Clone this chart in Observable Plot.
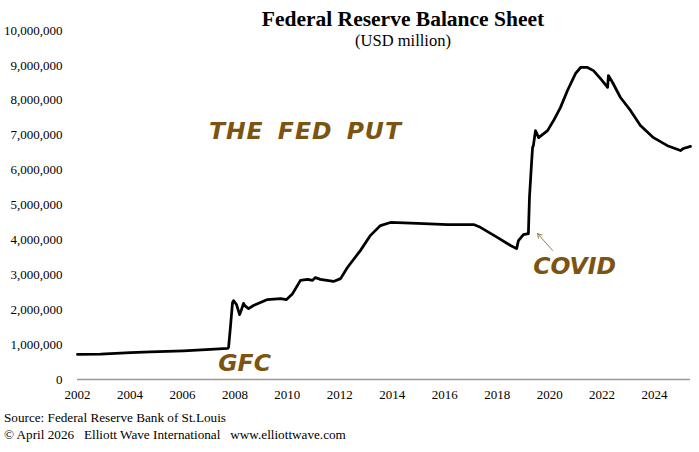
<!DOCTYPE html>
<html>
<head>
<meta charset="utf-8">
<script src="https://cdn.jsdelivr.net/npm/d3@7"></script>
<script src="https://cdn.jsdelivr.net/npm/@observablehq/plot@0.6"></script>
<style>
  body { margin: 0; background: #fff; }
  #wrap { position: relative; width: 699px; height: 452px; overflow: hidden; background: #fff; }
  #chart { position: absolute; left: 0; top: 0; }
  .title { position: absolute; left: 203px; width: 400px; top: 8.5px; text-align: center;
           font-family: "Liberation Serif", serif; font-weight: bold; font-size: 21.5px; line-height: 1; color: #000; white-space: nowrap; }
  .subtitle { position: absolute; left: 203px; width: 400px; top: 32.5px; text-align: center;
           font-family: "Liberation Serif", serif; font-size: 16.5px; line-height: 1; color: #000; white-space: nowrap; }
  .caption { position: absolute; left: 4px; top: 408.6px; font-family: "Liberation Serif", serif;
           font-size: 13.2px; line-height: 17.5px; color: #000; white-space: pre; }
  .fedput text { word-spacing: 5px; letter-spacing: 1px; }
</style>
</head>
<body>
<div id="wrap">
  <div id="chart"></div>
  <div class="title" id="title"></div>
  <div class="subtitle" id="subtitle"></div>
  <div class="caption" id="caption"></div>
</div>
<script>
// ---- Data ----
const titleText = "Federal Reserve Balance Sheet";
const subtitleText = "(USD million)";
const captionLines = [
  "Source: Federal Reserve Bank of St.Louis",
  "\u00a9 April 2026   Elliott Wave International   www.elliottwave.com"
];

const years = [
  2002.00, 2002.88, 2004.02, 2004.78, 2006.04, 2007.07, 2007.72, 2007.76, 2007.83, 2007.91,
  2007.95, 2008.06, 2008.18, 2008.25, 2008.33, 2008.40, 2008.52, 2008.71, 2009.24, 2009.74,
  2009.97, 2010.20, 2010.50, 2010.77, 2010.96, 2011.07, 2011.26, 2011.76, 2012.03, 2012.29,
  2012.79, 2013.17, 2013.55, 2013.93, 2014.96, 2016.11, 2017.10, 2017.36, 2017.94, 2018.51,
  2018.74, 2018.81, 2019.00, 2019.19, 2019.23, 2019.31, 2019.35, 2019.38, 2019.46, 2019.58,
  2019.92, 2020.15, 2020.41, 2020.68, 2020.99, 2021.18, 2021.44, 2021.67, 2021.94, 2022.21,
  2022.24, 2022.40, 2022.70, 2023.08, 2023.46, 2023.96, 2024.49, 2024.99, 2025.10, 2025.37
];
const balance = [
  720000, 730000, 770000, 790000, 820000, 860000, 890000, 920000, 1500000, 2200000,
  2260000, 2150000, 1860000, 2000000, 2180000, 2100000, 2030000, 2120000, 2290000, 2320000,
  2290000, 2460000, 2840000, 2870000, 2840000, 2920000, 2870000, 2810000, 2890000, 3210000,
  3700000, 4130000, 4410000, 4500000, 4470000, 4440000, 4440000, 4360000, 4100000, 3840000,
  3750000, 3980000, 4150000, 4180000, 5200000, 6200000, 6650000, 6700000, 7130000, 6930000,
  7130000, 7420000, 7790000, 8280000, 8770000, 8940000, 8940000, 8850000, 8620000, 8370000,
  8710000, 8510000, 8080000, 7710000, 7280000, 6930000, 6700000, 6560000, 6620000, 6680000
];

const xTicks = [2002, 2004, 2006, 2008, 2010, 2012, 2014, 2016, 2018, 2020, 2022, 2024];
const yTicks = [0, 1000000, 2000000, 3000000, 4000000, 5000000, 6000000, 7000000, 8000000, 9000000, 10000000];

const annoLabels = ["THE FED PUT", "GFC", "COVID"];
const annoX = [2010.69, 2008.37, 2020.95];
const annoY = [7110000, 460000, 3240000];

const arrowX1 = [2020.11], arrowY1 = [3700000];
const arrowX2 = [2019.54], arrowY2 = [4180000];

// ---- Build ----
const series = years.map((y, i) => ({year: y, value: balance[i]}));
const annos = annoLabels.map((t, i) => ({text: t, x: annoX[i], y: annoY[i]}));
const arrows = arrowX1.map((d, i) => ({x1: arrowX1[i], y1: arrowY1[i], x2: arrowX2[i], y2: arrowY2[i]}));

const brown = "#7B5412";
const handFont = {fontFamily: "DejaVu Sans", fontWeight: "bold", fontStyle: "italic", fontSize: 23.5, fill: brown};

const plot = Plot.plot({
  width: 699,
  height: 452,
  marginTop: 30,
  marginBottom: 73,
  marginLeft: 77,
  marginRight: 9,
  style: {fontFamily: "Liberation Serif", fontSize: "13px", color: "#000", background: "#fff"},
  x: {domain: [2002, 2025.37], label: null},
  y: {domain: [0, 10000000], label: null},
  marks: [
    Plot.axisX({ticks: xTicks, tickFormat: d => String(d), tickSize: 0, tickPadding: 10, label: null}),
    Plot.axisY({ticks: yTicks, tickFormat: d3.format(","), tickSize: 0, tickPadding: 15, label: null}),
    Plot.ruleY([0], {stroke: "#999", strokeWidth: 1.5}),
    Plot.line(series, {x: "year", y: "value", stroke: "#000", strokeWidth: 2.75, strokeLinejoin: "round"}),
    Plot.text(annos.slice(0, 1), {x: "x", y: "y", text: "text", ...handFont, className: "fedput"}),
    Plot.text(annos.slice(1), {x: "x", y: "y", text: "text", ...handFont}),
    Plot.arrow(arrows, {x1: "x1", y1: "y1", x2: "x2", y2: "y2", stroke: "#9A7A45", strokeWidth: 1, headLength: 7})
  ]
});

document.getElementById("chart").appendChild(plot);
document.getElementById("title").textContent = titleText;
document.getElementById("subtitle").textContent = subtitleText;
document.getElementById("caption").textContent = captionLines.join("\n");
</script>
</body>
</html>
